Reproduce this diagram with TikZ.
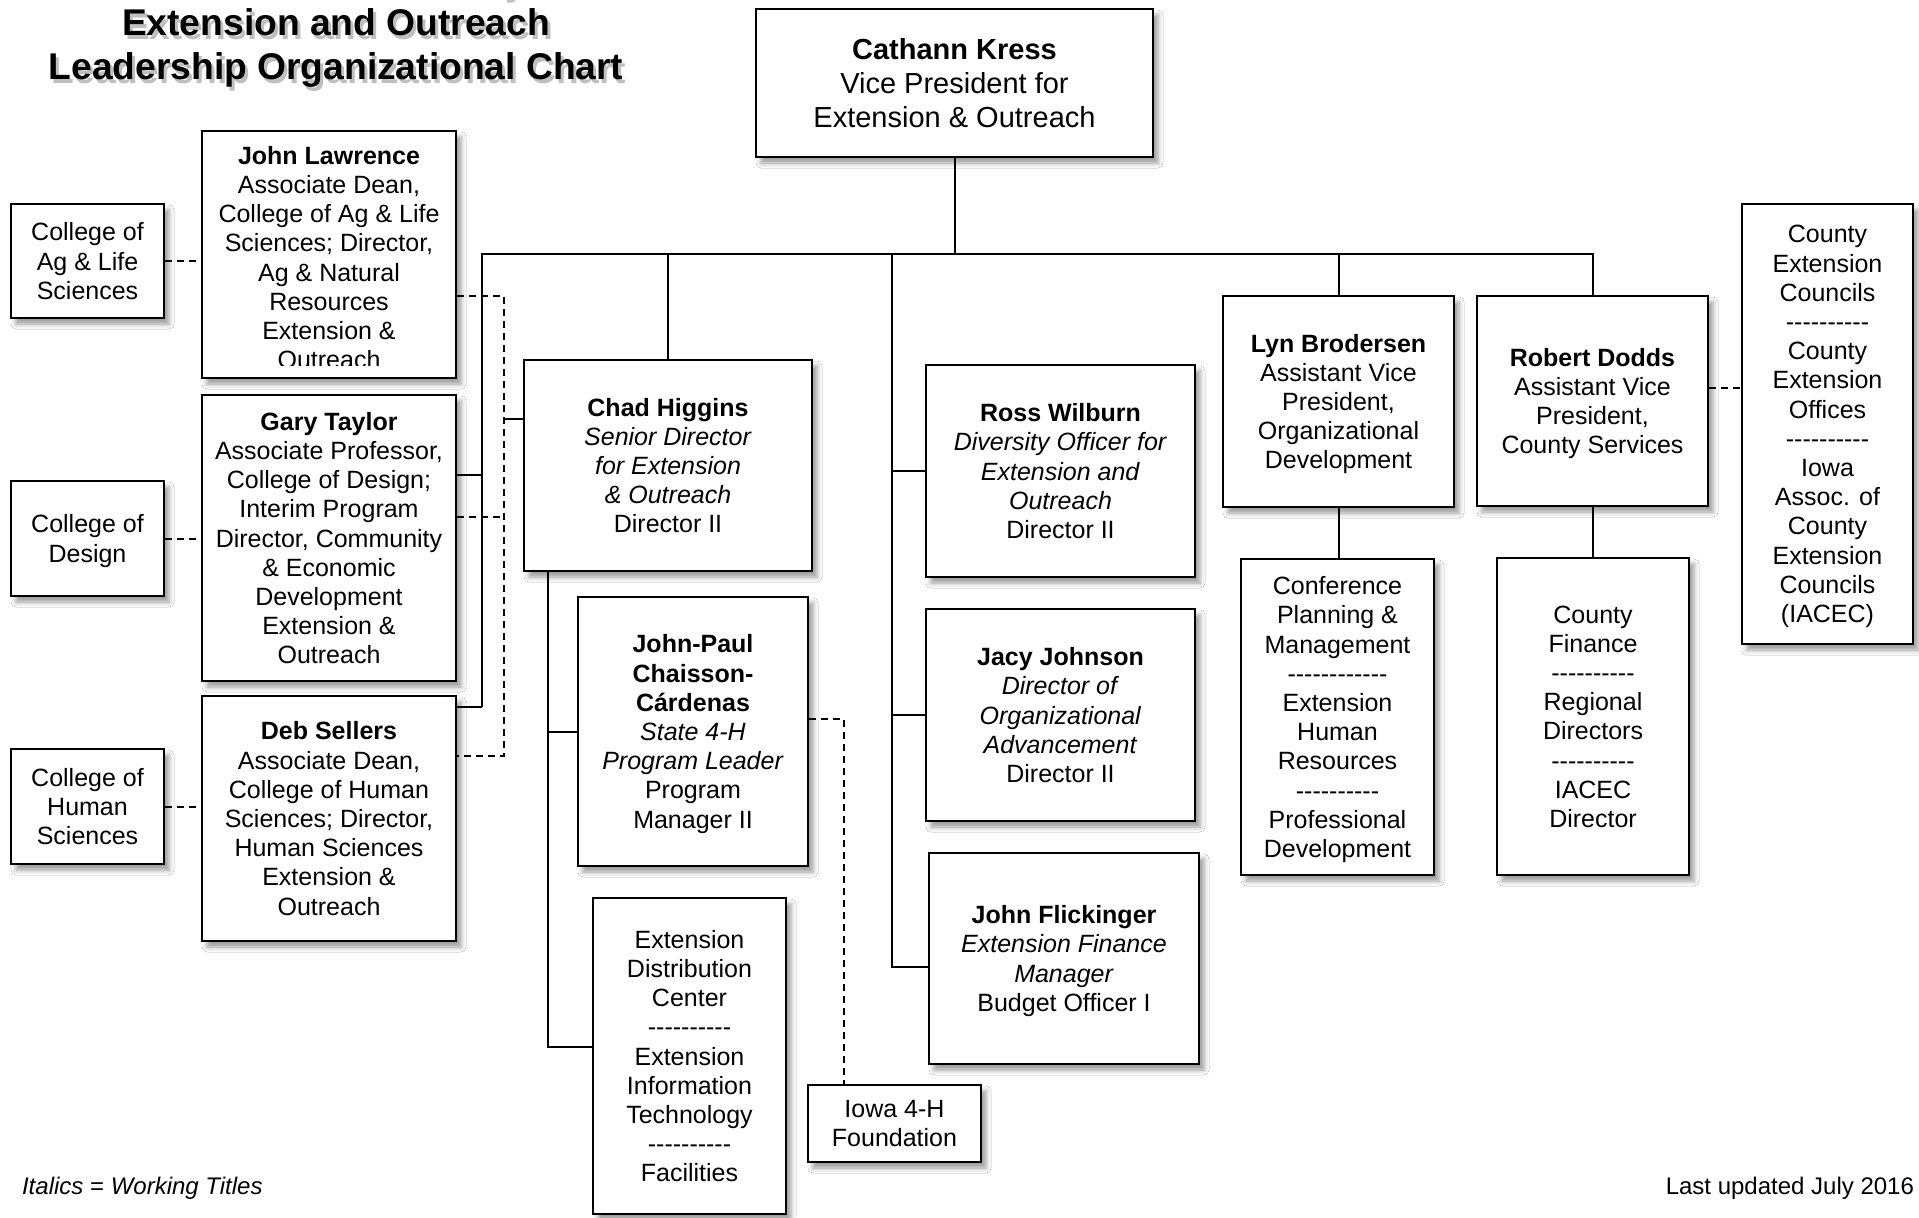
\documentclass[tikz,border=0pt]{standalone}
\usepackage{fontspec}
\setmainfont{Liberation Sans}
\usetikzlibrary{shadows.blur}

\newcommand{\sepline}[1]{\foreach \k in {1,...,#1}{-\kern0pt}}

\begin{document}
\begin{tikzpicture}[x=0.5pt, y=-0.5pt]
		% Node style
		\tikzset{boxtext/.style={inner sep=0pt, align=center, text depth=0pt,
								font=\fontsize{12.5pt}{14.6pt}\selectfont},
				box/.style={boxtext, draw, fill=white, line width=1.1pt,
								blur shadow={shadow xshift=2.5pt, shadow yshift=-3pt,
								shadow blur radius=2.5pt}},
				reports/.style={line width=1pt},
				liaison/.style={line width=1pt, dash pattern=on 3.5pt off 2.5pt},
				heading/.style={font=\fontsize{18.6pt}{22pt}\selectfont\bfseries,
								anchor=base},
				note/.style={font=\fontsize{12pt}{14pt}\selectfont}}
		
		\path[use as bounding box, fill=white] (0,0) rectangle (1919,1217);
		
		% Title
		\foreach \n/\y/\ln in {0/-9/Iowa State University,
				1/35/Extension and Outreach,
				2/79/Leadership Organizational Chart} {
			\node[heading, text=black!25] (titleshade\n) at (339,\y+4) {\ln};
			\node[heading] (title\n) at (336,\y) {\ln};
		}
		
		% Draw nodes
		\node[box, font=\fontsize{14.5pt}{17.1pt}\selectfont,
			minimum width=198.5pt, minimum height=74pt] at (954.5,83) (vp)
			{\textbf{Cathann Kress}\\Vice President for\\Extension \& Outreach};
		
		\node[box, minimum width=76.5pt, minimum height=57pt] at (87.5,261) (ag)
			{College of\\Ag \& Life\\Sciences};
		\node[box, minimum width=76.5pt, minimum height=57.5pt] at (87.5,538.5) (design)
			{College of\\Design};
		\node[box, minimum width=76.5pt, minimum height=57.5pt] at (87.5,806.5) (hs)
			{College of\\Human\\Sciences};
		
		\node[box, minimum width=127pt, minimum height=123.5pt] at (329,254.5) (jl) {};
		\begin{scope}
			\clip (202,131) rectangle (456,365);
			\node[boxtext] at (329,257.5) (jltext)
				{\textbf{John Lawrence}\\Associate Dean,\\College of Ag \& Life\\
				Sciences; Director,\\Ag \& Natural\\Resources\\Extension \&\\Outreach};
		\end{scope}
		\node[box, minimum width=127pt, minimum height=143pt] at (329,538) (gt)
			{\textbf{Gary Taylor}\\Associate Professor,\\College of Design;\\
			Interim Program\\Director, Community\\\& Economic\\Development\\
			Extension \&\\Outreach};
		\node[box, minimum width=127pt, minimum height=122.5pt] at (329,818.5) (ds)
			{\textbf{Deb Sellers}\\Associate Dean,\\College of Human\\
			Sciences; Director,\\Human Sciences\\Extension \&\\Outreach};
		
		\node[box, minimum width=144pt, minimum height=105.5pt] at (668,465.5) (chad)
			{\textbf{Chad Higgins}\\\textit{Senior Director}\\\textit{for Extension}\\
			\textit{\& Outreach}\\Director II};
		\node[box, minimum width=115pt, minimum height=134.5pt] at (693,731.5) (jpcc)
			{\textbf{John-Paul}\\\textbf{Chaisson-}\\\textbf{Cárdenas}\\
			\textit{State 4-H}\\\textit{Program Leader}\\Program\\Manager II};
		\node[box, minimum width=96.5pt, minimum height=158pt] at (689.5,1056) (extd)
			{Extension\\Distribution\\Center\\\sepline{10}\\Extension\\Information\\
			Technology\\\sepline{10}\\Facilities};
		\node[box, minimum width=86.5pt, minimum height=38.5pt] at (894.5,1123.5) (fourh)
			{Iowa 4-H\\Foundation};
		
		\node[box, minimum width=134.5pt, minimum height=106pt] at (1060.5,471) (ross)
			{\textbf{Ross Wilburn}\\\textit{Diversity Officer for}\\\textit{Extension and}\\
			\textit{Outreach}\\Director II};
		\node[box, minimum width=134.5pt, minimum height=106pt] at (1060.5,715) (jacy)
			{\textbf{Jacy Johnson}\\\textit{Director of}\\\textit{Organizational}\\
			\textit{Advancement}\\Director II};
		\node[box, minimum width=135pt, minimum height=105.5pt] at (1064,958.5) (flick)
			{\textbf{John Flickinger}\\\textit{Extension Finance}\\\textit{Manager}\\
			Budget Officer I};
		
		\node[box, minimum width=115.5pt, minimum height=105.5pt] at (1338.5,401.5) (lyn)
			{\textbf{Lyn Brodersen}\\Assistant Vice\\President,\\Organizational\\
			Development};
		\node[box, minimum width=115.5pt, minimum height=105pt] at (1592.5,401) (robert)
			{\textbf{Robert Dodds}\\Assistant Vice\\President,\\County Services};
		\node[box, minimum width=96.5pt, minimum height=158pt] at (1337.5,717) (conf)
			{Conference\\Planning \&\\Management\\\sepline{12}\\Extension\\Human\\
			Resources\\\sepline{10}\\Professional\\Development};
		\node[box, minimum width=96pt, minimum height=158.5pt] at (1593,716.5) (cf)
			{County\\Finance\\\sepline{10}\\Regional\\Directors\\\sepline{10}\\
			IACEC\\Director};
		\node[box, minimum width=85.5pt, minimum height=220pt] at (1827.5,424) (cec)
			{County\\Extension\\Councils\\\sepline{10}\\County\\Extension\\Offices\\
			\sepline{10}\\Iowa\\Assoc. of\\County\\Extension\\Councils\\(IACEC)};
		
		% Footnotes
		\node[note, anchor=base west] at (15,1194) (legend)
			{\textit{Italics} = \textit{Working Titles}};
		\node[note, anchor=base east] at (1921,1194) (updated)
			{Last updated July 2016};
		
		% Draw connectors
		\coordinate (busL) at (482,254);
		\coordinate (mbus) at (892,254);
		\coordinate (gtjoin) at (482,475);
		\coordinate (dsjoin) at (482,707);
		\coordinate (flkjoin) at (892,967);
		\coordinate (cbus) at (548,571);
		\coordinate (cbusend) at (548,1047);
		\coordinate (jlx) at (504,296);
		\coordinate (chx) at (504,419);
		\coordinate (gtx) at (504,517);
		\coordinate (dsx) at (504,756);
		\coordinate (fourhx) at (844,719);
		\coordinate (cecjoin) at (1742,388);
		
		\draw[reports] (vp.south) -- (vp.south |- busL);
		\draw[reports] (dsjoin) -- (busL) -- (busL -| robert.north) -- (robert.north);
		\draw[reports] (gt.east |- gtjoin) -- (gtjoin);
		\draw[reports] (ds.east |- dsjoin) -- (dsjoin);
		\draw[reports] (chad.north |- busL) -- (chad.north);
		\draw[reports] (lyn.north |- busL) -- (lyn.north);
		\draw[reports] (mbus) -- (flkjoin) -- (flick.west |- flkjoin);
		\draw[reports] (ross.west -| mbus) -- (ross.west);
		\draw[reports] (jacy.west -| mbus) -- (jacy.west);
		\draw[reports] (cbus) -- (cbusend) -- (extd.west |- cbusend);
		\draw[reports] (jpcc.west -| cbus) -- (jpcc.west);
		\draw[reports] (lyn.south) -- (lyn.south |- conf.north);
		\draw[reports] (robert.south) -- (robert.south |- cf.north);
		\draw[reports] (chx) -- (chad.west |- chx);
		
		\draw[liaison] (ag.east) -- (ag.east -| jl.west);
		\draw[liaison] (design.east) -- (design.east -| gt.west);
		\draw[liaison] (hs.east) -- (hs.east -| ds.west);
		\draw[liaison] (jl.east |- jlx) -- (jlx) -- (dsx) -- (ds.east |- dsx);
		\draw[liaison] (gt.east |- gtx) -- (gtx);
		\draw[liaison] (jpcc.east |- fourhx) -- (fourhx) -- (fourhx |- fourh.north);
		\draw[liaison] (robert.east |- cecjoin) -- (cecjoin);
		
\end{tikzpicture}
\end{document}
